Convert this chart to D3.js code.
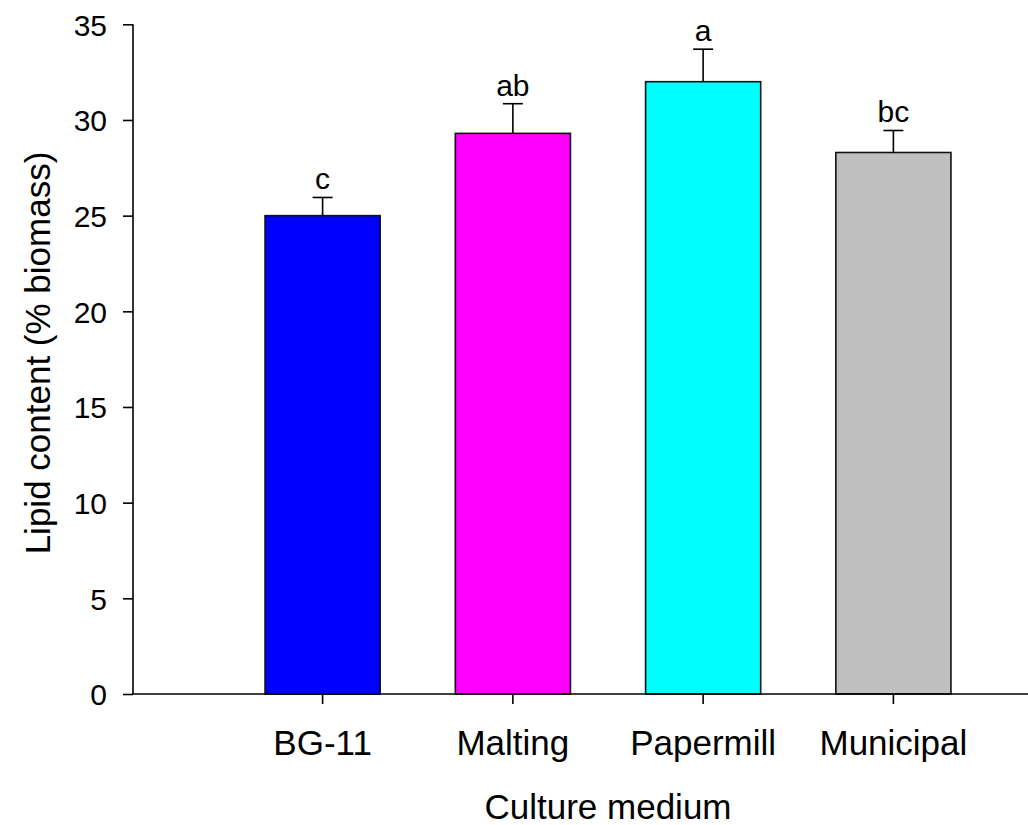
<!DOCTYPE html>
<html>
<head>
<meta charset="utf-8">
<script src="https://cdn.jsdelivr.net/npm/d3@7"></script>
<style>
  body { margin: 0; background: #fff; }
  text { font-family: Arial, "Liberation Sans", sans-serif; fill: #000; }
</style>
</head>
<body>
<div id="chart"></div>
<script>
// chart data
var categories = ['BG-11', 'Malting', 'Papermill', 'Municipal'];
var lipidValues = [25.0, 29.3, 32.0, 28.3];
var errorValues = [0.95, 1.55, 1.7, 1.15];
var groupLetters = ['c', 'ab', 'a', 'bc'];
var barColors = ['#0000ff', '#ff00ff', '#00ffff', '#c0c0c0'];
var yTicks = [0, 5, 10, 15, 20, 25, 30, 35];

var svgWidth = 1028;
var svgHeight = 825;

var svg = d3.select('#chart')
  .append('svg')
  .attr('width', svgWidth)
  .attr('height', svgHeight);

var axisX = 133;
var axisBottomY = 694;

// scales
var yScale = d3.scaleLinear().domain([0, 35]).range([axisBottomY, 24.3]);

var xScale = d3.scaleBand()
  .domain(categories)
  .range([227, 989])
  .paddingInner(0.395)
  .paddingOuter(0.2);

// bars
var bars = svg.selectAll('.bar')
  .data(categories)
  .enter()
  .append('rect')
  .attr('class', 'bar')
  .attr('x', (d) => xScale(d))
  .attr('y', (d, i) => yScale(lipidValues[i]))
  .attr('width', xScale.bandwidth())
  .attr('height', (d, i) => axisBottomY - yScale(lipidValues[i]))
  .style('fill', (d, i) => barColors[i])
  .style('stroke', '#111')
  .style('stroke-width', 1.6);

// error bars (upper only)
var errGroup = svg.append('g');
categories.forEach(function (c, i) {
  var cx = xScale(c) + xScale.bandwidth() / 2;
  var top = yScale(lipidValues[i] + errorValues[i]);
  errGroup.append('line')
    .attr('x1', cx).attr('x2', cx)
    .attr('y1', yScale(lipidValues[i])).attr('y2', top)
    .style('stroke', '#000').style('stroke-width', 1.6);
  errGroup.append('line')
    .attr('x1', cx - 10).attr('x2', cx + 10)
    .attr('y1', top).attr('y2', top)
    .style('stroke', '#000').style('stroke-width', 1.6);
  errGroup.append('text')
    .attr('x', cx)
    .attr('y', top - 8)
    .attr('text-anchor', 'middle')
    .style('font-size', '30px')
    .text(groupLetters[i]);
});

// y axis
var yAxis = d3.axisLeft(yScale)
  .tickValues(yTicks)
  .tickSize(10)
  .tickPadding(16);

var yAxisG = svg.append('g')
  .attr('transform', `translate(${axisX}, 0)`)
  .call(yAxis);
yAxisG.select('.domain').remove();
yAxisG.append('line')
  .attr('x1', 0).attr('x2', 0)
  .attr('y1', yScale(35)).attr('y2', axisBottomY)
  .style('stroke', '#000').style('stroke-width', 1.6);
yAxisG.selectAll('.tick line').style('stroke-width', 1.6);
yAxisG.selectAll('.tick text')
  .style('font-size', '30px')
  .attr('dy', '0.36em');

// x axis
var xAxis = d3.axisBottom(xScale).tickSize(10).tickPadding(24);
var xAxisG = svg.append('g')
  .attr('transform', `translate(0, ${axisBottomY})`)
  .call(xAxis);
xAxisG.select('.domain').remove();
xAxisG.append('line')
  .attr('x1', axisX).attr('x2', svgWidth)
  .attr('y1', 0).attr('y2', 0)
  .style('stroke', '#000').style('stroke-width', 1.6);
xAxisG.selectAll('.tick line').style('stroke-width', 1.6);
xAxisG.selectAll('.tick text')
  .style('font-size', '35px')
  .attr('dy', 0)
  .attr('y', 61);

// axis titles
svg.append('text')
  .attr('x', 608)
  .attr('y', 819)
  .attr('text-anchor', 'middle')
  .style('font-size', '35px')
  .text('Culture medium');

svg.append('text')
  .attr('transform', 'rotate(-90)')
  .attr('x', -353)
  .attr('y', 50)
  .attr('text-anchor', 'middle')
  .style('font-size', '35px')
  .text('Lipid content (% biomass)');
</script>
</body>
</html>
